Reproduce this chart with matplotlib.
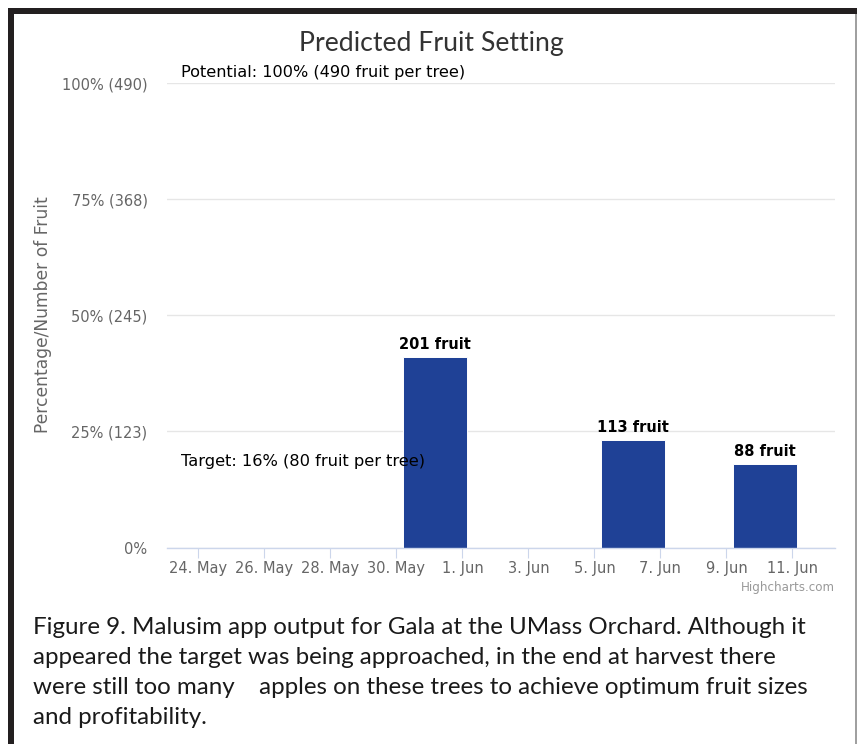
import matplotlib
matplotlib.use("Agg")
import matplotlib.pyplot as plt
import matplotlib.dates as mdates
from matplotlib.patches import Rectangle
import pandas as pd

# ---- data ----
title = "Predicted Fruit Setting"
y_axis_title = "Percentage/Number of Fruit"
bar_dates = ["2019-05-31 04:00", "2019-06-06 04:00", "2019-06-10 04:00"]
fruit_counts = [201, 113, 88]
bar_labels = ["201 fruit", "113 fruit", "88 fruit"]
potential_fruit = 490
target_fruit = 80
potential_label = "Potential: 100% (490 fruit per tree)"
target_label = "Target: 16% (80 fruit per tree)"
y_ticks = [0, 122.5, 245, 367.5, 490]
y_tick_labels = ["0%", "25% (123)", "50% (245)", "75% (368)", "100% (490)"]
x_tick_dates = ["2019-05-24", "2019-05-26", "2019-05-28", "2019-05-30", "2019-06-01",
                "2019-06-03", "2019-06-05", "2019-06-07", "2019-06-09", "2019-06-11"]
x_tick_labels = ["24. May", "26. May", "28. May", "30. May", "1. Jun",
                 "3. Jun", "5. Jun", "7. Jun", "9. Jun", "11. Jun"]
x_range = ["2019-05-23 01:10", "2019-06-12 07:00"]
caption_lines = [
    "Figure 9. Malusim app output for Gala at the UMass Orchard. Although it",
    "appeared the target was being approached, in the end at harvest there",
    "were still too many    apples on these trees to achieve optimum fruit sizes",
    "and profitability.",
]
credit = "Highcharts.com"

W, H = 857, 744
fig = plt.figure(figsize=(W / 100, H / 100), dpi=100)
fig.patch.set_facecolor("white")

def fx(px):
    return px / W

def fy(py):
    return 1 - py / H

# plot area: x 167..835, y 83..547.5
ax = fig.add_axes([fx(167), fy(547.5), (835 - 167) / W, (547.5 - 83) / H])
ax.set_facecolor("white")

xd = mdates.date2num(pd.to_datetime(bar_dates))
ax.bar(xd, fruit_counts, width=1.92, color="#1f4196", edgecolor="white",
       linewidth=0.7, zorder=3)

for x, v, lab in zip(xd, fruit_counts, bar_labels):
    ax.annotate(lab, (x, v), xytext=(0, 5), textcoords="offset pixels",
                ha="center", va="bottom", fontsize=10.5, fontweight="bold",
                color="black", family="DejaVu Sans", zorder=4)

ax.set_ylim(0, potential_fruit)
ax.set_yticks(y_ticks)
ax.set_yticklabels(y_tick_labels)
xt = mdates.date2num(pd.to_datetime(x_tick_dates))
ax.set_xticks(xt)
ax.set_xticklabels(x_tick_labels)
xr = mdates.date2num(pd.to_datetime(x_range))
ax.set_xlim(xr[0], xr[1])

ax.grid(axis="y", color="#e6e6e6", linewidth=1.0, zorder=0)
ax.grid(axis="x", visible=False)
for s in ["left", "right", "top"]:
    ax.spines[s].set_visible(False)
ax.spines["bottom"].set_color("#ccd6eb")
ax.spines["bottom"].set_linewidth(1.0)
ax.spines["bottom"].set_zorder(5)

ax.tick_params(axis="y", length=0, pad=14, labelsize=10.5, labelcolor="#666666")
ax.tick_params(axis="x", length=7, width=0.8, color="#ccd6eb", pad=3,
               labelsize=10.5, labelcolor="#666666")
for lab in ax.get_xticklabels() + ax.get_yticklabels():
    lab.set_family("DejaVu Sans")

# y axis title
fig.text(fx(43), fy(315), y_axis_title, rotation=90, ha="center", va="center",
         fontsize=12.3, color="#666666", family="DejaVu Sans")

# plot line labels
ax.annotate(potential_label, (0, potential_fruit), xycoords=("axes fraction", "data"),
            xytext=(14, 3), textcoords="offset pixels", ha="left", va="bottom",
            fontsize=11.6, color="black", family="DejaVu Sans", zorder=6)
ax.annotate(target_label, (0, target_fruit), xycoords=("axes fraction", "data"),
            xytext=(14, 3), textcoords="offset pixels", ha="left", va="bottom",
            fontsize=11.7, color="black", family="DejaVu Sans", zorder=6)

# title
fig.text(fx(431), fy(43), title, ha="center", va="center", fontsize=19.2,
         color="#333333", family="Lato")

# credit
fig.text(fx(835), fy(587), credit, ha="right", va="center", fontsize=8.6,
         color="#999999", family="DejaVu Sans")

# caption
cap_y = [628, 658, 688, 718]
for line, yy in zip(caption_lines, cap_y):
    fig.text(fx(33), fy(yy), line, ha="left", va="center", fontsize=17.35,
             color="#1a1a1a", family="Lato")

# frame
fig.add_artist(Rectangle((fx(8), 0), fx(14) - fx(8), fy(8), transform=fig.transFigure,
                         facecolor="#231f20", edgecolor="none"))
fig.add_artist(Rectangle((fx(8), fy(14)), 1 - fx(8), fy(8) - fy(14),
                         transform=fig.transFigure, facecolor="#231f20", edgecolor="none"))
fig.add_artist(Rectangle((fx(855.3), 0), fx(1.2), fy(14), transform=fig.transFigure,
                         facecolor="#a0a0a0", edgecolor="none"))

fig.savefig("out.png", dpi=100, facecolor="white")
